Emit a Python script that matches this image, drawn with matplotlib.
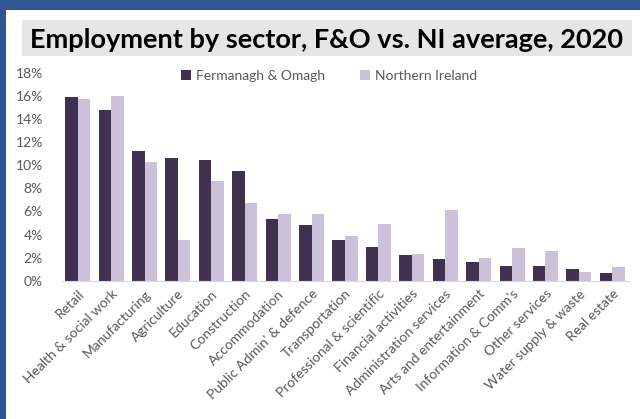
import matplotlib
matplotlib.use("Agg")
import matplotlib.pyplot as plt
from matplotlib.patches import Rectangle
import numpy as np

# Data (share of employment, %)
sectors = ["Retail", "Health & social work", "Manufacturing", "Agriculture",
           "Education", "Construction", "Accommodation", "Public Admin' & defence",
           "Transportation", "Professional & scientific", "Financial activities",
           "Administration services", "Arts and entertainment", "Information & Comm's",
           "Other services", "Water supply & waste", "Real estate"]
fo = [15.9, 14.8, 11.2, 10.6, 10.45, 9.5, 5.35, 4.85, 3.5, 2.95, 2.2, 1.85,
      1.65, 1.25, 1.25, 1.0, 0.65]
ni = [15.7, 16.0, 10.3, 3.5, 8.65, 6.75, 5.8, 5.8, 3.9, 4.9, 2.3, 6.15,
      2.0, 2.85, 2.6, 0.75, 1.2]

dark = "#403151"
light = "#CCC1DA"
grey = "#595959"

plt.rcParams['font.family'] = ['Lato', 'DejaVu Sans']

fig = plt.figure(figsize=(6.4, 4.19), dpi=100)

# blue frame at top and left
fig.patches.append(Rectangle((0, 1 - 10/419), 1, 10/419, transform=fig.transFigure,
                             facecolor="#2F5597", edgecolor="none", zorder=0))
fig.patches.append(Rectangle((0, 0), 6/640, 1, transform=fig.transFigure,
                             facecolor="#2F5597", edgecolor="none", zorder=0))
# title box
fig.patches.append(Rectangle((22/640, 1 - 56/419), 610/640, 36/419, transform=fig.transFigure,
                             facecolor="#E6E6E6", edgecolor="none", zorder=0))
fig.text(0.51, 1 - 40/419, "Employment by sector, F&O vs. NI average, 2020",
         ha="center", va="center", fontsize=19.5, fontweight="bold", color="black")

ax = fig.add_axes([61/640, 1 - 280.7/419, 568/640, (280.7 - 72.9)/419])
x = np.arange(len(sectors))
w = 0.375
ax.bar(x - w/2, fo, width=w, color=dark, label="Fermanagh & Omagh")
ax.bar(x + w/2, ni, width=w, color=light, label="Northern Ireland")

ax.set_xlim(-0.5, len(sectors) - 0.5)
ax.set_ylim(0, 18)
ax.set_yticks(np.arange(0, 19, 2))
ax.set_yticklabels([f"{v}%" for v in range(0, 19, 2)])
ax.set_xticks(x)
ax.set_xticklabels(sectors, rotation=45, ha="right", rotation_mode="anchor")

for s in ["top", "right", "left"]:
    ax.spines[s].set_visible(False)
ax.spines["bottom"].set_color("#D9D9D9")
ax.tick_params(axis="both", length=0, colors=grey, labelsize=10)
ax.tick_params(axis="y", pad=13)
ax.tick_params(axis="x", pad=5)

ax.legend(loc="upper center", bbox_to_anchor=(0.472, 1.075), ncol=2, frameon=False,
          fontsize=10, labelcolor=grey, handlelength=0.7, handleheight=0.7,
          handletextpad=0.4, columnspacing=2.5)

fig.savefig("out.png", dpi=100)
